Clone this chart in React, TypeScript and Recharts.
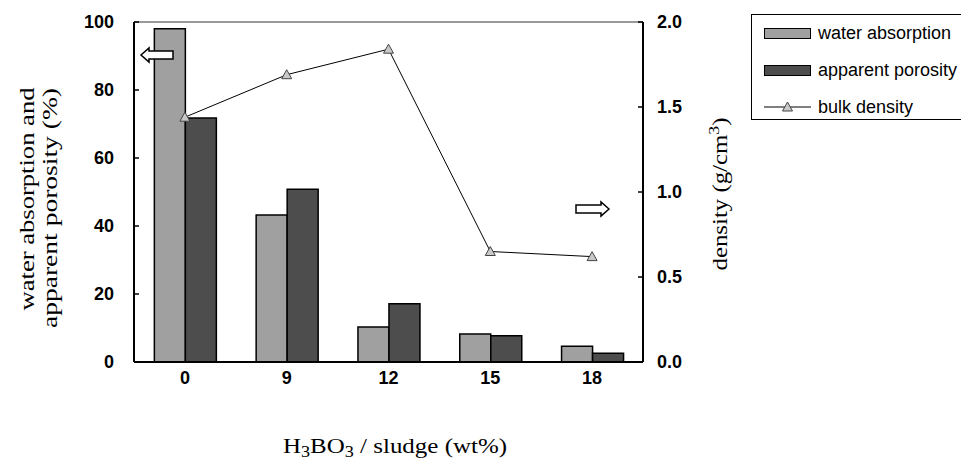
import { ComposedChart, Bar, Line, XAxis, YAxis, ReferenceLine } from 'recharts';

const ratios = ['0', '9', '12', '15', '18'];
const waterAbsorption = [98, 43.2, 10.3, 8.2, 4.6];
const apparentPorosity = [71.8, 50.8, 17.1, 7.7, 2.6];
const bulkDensity = [1.44, 1.69, 1.84, 0.65, 0.62];
const leftTicks = [0, 20, 40, 60, 80, 100];
const rightTicks = [0, 0.5, 1, 1.5, 2];

const data = ratios.map((r, i) => ({
  r,
  wa: waterAbsorption[i],
  ap: apparentPorosity[i],
  bd: bulkDensity[i],
}));

const tickFont = { fontSize: 18, fontWeight: 700, fontFamily: 'Liberation Sans, Arial', fill: '#000' };
const serif = 'Liberation Serif, Times New Roman, serif';

function Tri(props: any) {
  const { cx, cy } = props;
  if (cx == null || cy == null) return null;
  return (
    <path
      d={`M${cx},${cy - 5} L${cx + 5},${cy + 4} L${cx - 5},${cy + 4} Z`}
      fill="#c8c8c8"
      stroke="#444"
      strokeWidth={1}
    />
  );
}

export default function App() {
  return (
    <div style={{ position: 'absolute', left: 0, top: 0, width: 961, height: 462, background: '#fff' }}>
      <ComposedChart
        width={961}
        height={462}
        data={data}
        margin={{ top: 22, right: 268, left: 84, bottom: 70 }}
        barGap={0}
        barCategoryGap="20%"
      >
        <XAxis
          dataKey="r"
          tick={tickFont}
          tickLine={false}
          axisLine={{ stroke: '#000', strokeWidth: 2 }}
          height={30}
          tickMargin={3}
        />
        <YAxis
          yAxisId="l"
          domain={[0, 100]}
          ticks={leftTicks}
          tick={tickFont}
          tickLine={{ stroke: '#000', strokeWidth: 1.5 }}
          tickSize={-5}
          tickMargin={25}
          axisLine={{ stroke: '#000', strokeWidth: 2 }}
          width={50}
        />
        <YAxis
          yAxisId="r"
          orientation="right"
          domain={[0, 2]}
          ticks={rightTicks}
          tickFormatter={(v: number) => v.toFixed(1)}
          tick={tickFont}
          tickLine={{ stroke: '#000', strokeWidth: 1.5 }}
          tickSize={-5}
          tickMargin={19}
          axisLine={{ stroke: '#000', strokeWidth: 2 }}
          width={50}
        />
        <ReferenceLine yAxisId="l" y={100} stroke="#999" strokeWidth={2} />
        <Bar yAxisId="l" dataKey="wa" fill="#a0a0a0" stroke="#000" strokeWidth={1.5} isAnimationActive={false} />
        <Bar yAxisId="l" dataKey="ap" fill="#4d4d4d" stroke="#000" strokeWidth={1.5} isAnimationActive={false} />
        <Line
          yAxisId="r"
          dataKey="bd"
          stroke="#000"
          strokeWidth={1}
          dot={<Tri />}
          activeDot={false}
          isAnimationActive={false}
        />
      </ComposedChart>

      <svg width={961} height={462} style={{ position: 'absolute', left: 0, top: 0, pointerEvents: 'none' }}>
        {/* direction arrows */}
        <path d="M141,55 L149,48 L149,51 L173,51 L173,59 L149,59 L149,62 Z" fill="#fff" stroke="#000" strokeWidth={1.5} />
        <path d="M609,209 L601,202 L601,205 L576,205 L576,213 L601,213 L601,216 Z" fill="#fff" stroke="#000" strokeWidth={1.5} />

        <text transform="translate(34,199) rotate(-90)" textAnchor="middle" fontFamily={serif} fontSize={21}
          textLength={223} lengthAdjust="spacingAndGlyphs">
          water absorption and
        </text>
        <text transform="translate(57,208) rotate(-90)" textAnchor="middle" fontFamily={serif} fontSize={21}
          textLength={240} lengthAdjust="spacingAndGlyphs">
          apparent porosity (%)
        </text>
        <text transform="translate(727,194) rotate(-90)" textAnchor="middle" fontFamily={serif} fontSize={21}
          textLength={153} lengthAdjust="spacingAndGlyphs">
          density (g/cm<tspan dy={-8} fontSize={15}>3</tspan><tspan dy={8}>)</tspan>
        </text>
        <text x={395} y={453} textAnchor="middle" fontFamily={serif} fontSize={22}
          textLength={224} lengthAdjust="spacingAndGlyphs">
          H<tspan dy={4} fontSize={16}>3</tspan><tspan dy={-4}>BO</tspan><tspan dy={4} fontSize={16}>3</tspan>
          <tspan dy={-4}> / sludge (wt%)</tspan>
        </text>
      </svg>

      <div
        style={{
          position: 'absolute',
          left: 751,
          top: 14,
          width: 220,
          height: 106,
          border: '1px solid #000',
          fontFamily: 'Liberation Sans, Arial',
          fontSize: 18,
          boxSizing: 'border-box',
        }}
      >
        {[
          { label: 'water absorption', color: '#a0a0a0' },
          { label: 'apparent porosity', color: '#4d4d4d' },
        ].map((it, i) => (
          <div key={it.label} style={{ position: 'absolute', left: 12, top: 7 + i * 37, height: 22, display: 'flex', alignItems: 'center', whiteSpace: 'nowrap' }}>
            <span style={{ display: 'inline-block', width: 45, height: 9, background: it.color, border: '1px solid #000', marginRight: 7 }} />
            <span>{it.label}</span>
          </div>
        ))}
        <div style={{ position: 'absolute', left: 12, top: 81, height: 22, display: 'flex', alignItems: 'center', whiteSpace: 'nowrap' }}>
          <svg width={47} height={12} style={{ marginRight: 7 }}>
            <line x1={0} y1={6} x2={47} y2={6} stroke="#000" strokeWidth={1} />
            <path d="M23.5,1 L28.5,10 L18.5,10 Z" fill="#c8c8c8" stroke="#444" strokeWidth={1} />
          </svg>
          <span>bulk density</span>
        </div>
      </div>
    </div>
  );
}
